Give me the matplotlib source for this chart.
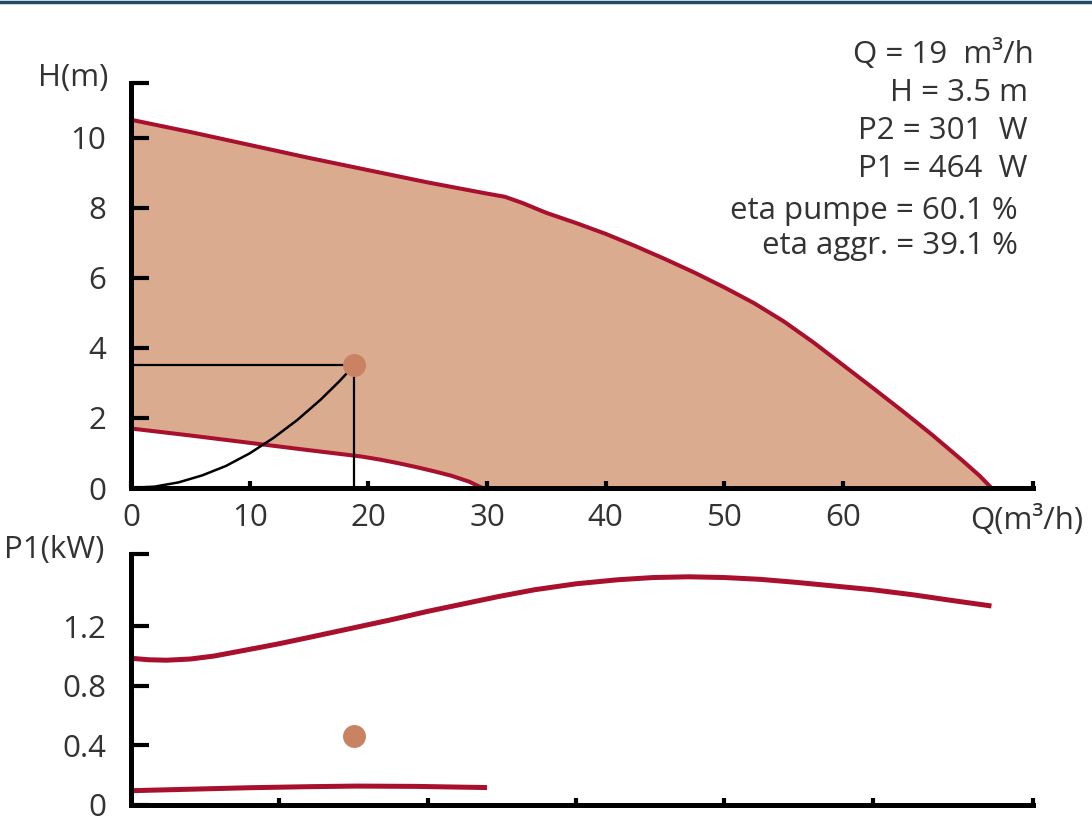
import numpy as np
import matplotlib
matplotlib.use("Agg")
import matplotlib.pyplot as plt
from matplotlib.lines import Line2D

plt.rcParams['font.family'] = ['Open Sans', 'DejaVu Sans']

# --------------------------------------------------------------
# Data
# --------------------------------------------------------------
# H(Q) max speed
hmax_q = [0, 5, 10, 15, 20, 25, 30, 31.5, 33, 35, 37.5, 40, 42.5, 45, 47.5, 50, 52.5, 55,
          57.5, 60, 62.5, 65, 67.5, 70, 71.5, 72.5]
hmax_h = [10.52, 10.17, 9.80, 9.43, 9.08, 8.73, 8.41, 8.32, 8.14, 7.86, 7.57, 7.26, 6.91, 6.54,
          6.15, 5.73, 5.28, 4.76, 4.16, 3.51, 2.86, 2.20, 1.52, 0.80, 0.35, 0]
# H(Q) min speed
hmin_q = [0, 5, 10, 15, 19.4, 21, 22.5, 24, 25.5, 27, 28.5, 29.6]
hmin_h = [1.70, 1.50, 1.29, 1.08, 0.90, 0.81, 0.71, 0.60, 0.48, 0.35, 0.18, 0]
# system curve through the duty point
sys_q = [0, 2, 4, 6, 8, 10, 12, 14, 16, 17.5, 18.8]
sys_h = [0, 0.04, 0.16, 0.36, 0.63, 0.99, 1.43, 1.94, 2.53, 3.03, 3.5]
# P1(Q) max / min speed
p1max_q = [0, 1.5, 3, 5, 7, 9, 11, 12.5, 15, 18.8, 22, 25, 28, 31, 34, 37.5, 41, 44, 47, 50,
           53, 56, 59, 62.5, 66, 69, 72.5]
p1max_p = [0.985, 0.975, 0.972, 0.98, 1.0, 1.03, 1.06, 1.083, 1.125, 1.19, 1.245, 1.30, 1.35,
           1.40, 1.445, 1.485, 1.512, 1.527, 1.532, 1.527, 1.515, 1.495, 1.472, 1.445, 1.41,
           1.375, 1.336]
p1min_q = [0, 5, 10, 15, 19, 24, 27, 30]
p1min_p = [0.096, 0.106, 0.116, 0.123, 0.127, 0.125, 0.121, 0.117]

# duty point
q_op = 18.8
h_op = 3.5
p1_op = 0.464

info_lines = ["Q = 19  m³/h", "H = 3.5 m", "P2 = 301  W", "P1 = 464  W",
              "eta pumpe = 60.1 %", "eta aggr. = 39.1 %"]

h_ticks = [0, 2, 4, 6, 8, 10]
q_ticks = [0, 10, 20, 30, 40, 50, 60]
p_ticks = [0, 0.4, 0.8, 1.2]
q_ticks_bottom = [12.5, 25, 37.5, 50, 62.5]

# --------------------------------------------------------------
# Styling
# --------------------------------------------------------------
W, H = 1092, 819
red = "#a8102e"
fill_col = "#dbab8f"
dot_col = "#c98262"
txt_col = "#333333"
fs = 22.5
xmax = 76
hmax = 11.57
pmax = 1.685

fig = plt.figure(figsize=(W / 100, H / 100), dpi=100)
left = 131 / W
width = (1033 - 131) / W
ax1 = fig.add_axes([left, 1 - 488 / H, width, (488 - 83) / H])
ax2 = fig.add_axes([left, 1 - 805 / H, width, (805 - 554) / H])


def style_axes(ax):
    for s in ["top", "right"]:
        ax.spines[s].set_visible(False)
    for s in ["left", "bottom"]:
        ax.spines[s].set_linewidth(3.6)
        ax.spines[s].set_zorder(10)
        ax.spines[s].set_capstyle("projecting")
    ax.tick_params(axis="y", direction="in", length=13, width=3, colors="black",
                   labelcolor=txt_col, labelsize=fs, pad=18)
    ax.tick_params(axis="x", direction="in", length=5, width=3, colors="black",
                   labelcolor=txt_col, labelsize=fs, pad=11)
    ax.patch.set_visible(False)


# --------------------------------------------------------------
# H(Q) plot
# --------------------------------------------------------------
ax1.set_xlim(0, xmax)
ax1.set_ylim(0, hmax)
style_axes(ax1)

poly_q = np.concatenate([hmax_q, hmin_q[::-1]])
poly_h = np.concatenate([hmax_h, hmin_h[::-1]])
ax1.fill(poly_q, poly_h, color=fill_col, lw=0, zorder=1)
ax1.plot(hmax_q, hmax_h, color=red, lw=2.9, zorder=3, solid_capstyle="butt", solid_joinstyle="round")
ax1.plot(hmin_q, hmin_h, color=red, lw=2.9, zorder=3, solid_capstyle="butt", solid_joinstyle="round")
ax1.plot(sys_q, sys_h, color="black", lw=1.8, zorder=4, solid_joinstyle="round")
ax1.plot([0, q_op], [h_op, h_op], color="black", lw=1.6, zorder=4)
ax1.plot([q_op, q_op], [h_op, 0], color="black", lw=1.6, zorder=4)
ax1.plot([q_op], [h_op], "o", color=dot_col, ms=16.5, mew=0, zorder=5)

ax1.set_yticks(h_ticks + [hmax])
ax1.set_yticklabels([str(t) for t in h_ticks] + [""])
ax1.set_xticks(q_ticks + [xmax])
ax1.set_xticklabels([str(t) for t in q_ticks] + [""])

# --------------------------------------------------------------
# P1(Q) plot
# --------------------------------------------------------------
ax2.set_xlim(0, xmax)
ax2.set_ylim(0, pmax)
style_axes(ax2)
ax2.plot(p1max_q, p1max_p, color=red, lw=3.6, zorder=3, solid_capstyle="butt", solid_joinstyle="round")
ax2.plot(p1min_q, p1min_p, color=red, lw=3.6, zorder=3, solid_capstyle="butt", solid_joinstyle="round")
ax2.plot([q_op], [p1_op], "o", color=dot_col, ms=16.5, mew=0, zorder=5)
ax2.set_yticks(p_ticks + [pmax])
ax2.set_yticklabels(["0", "0.4", "0.8", "1.2", ""])
ax2.set_xticks(q_ticks_bottom + [xmax])
ax2.set_xticklabels([""] * (len(q_ticks_bottom) + 1))

# --------------------------------------------------------------
# Labels and info text
# --------------------------------------------------------------
fig.text(108 / W, 1 - 78 / H, "H(m)", ha="right", va="center", fontsize=fs, color=txt_col)
fig.text(104 / W, 1 - 550 / H, "P1(kW)", ha="right", va="center", fontsize=fs, color=txt_col)
fig.text(970 / W, 1 - 521 / H, "Q(m³/h)", ha="left", va="center", fontsize=fs, color=txt_col)

info_y = [55, 93, 131, 169, 211, 246]
info_x = [1034, 1028, 1028, 1028, 1018, 1018]
for s, x, y in zip(info_lines, info_x, info_y):
    fig.text(x / W, 1 - y / H, s, ha="right", va="center", fontsize=fs, color=txt_col)

# top border line
fig.add_artist(Line2D([0, 1], [1 - 2 / H, 1 - 2 / H], color="#1f4a6b", lw=2.5,
                      transform=fig.transFigure))

fig.savefig("out.png", dpi=100)
